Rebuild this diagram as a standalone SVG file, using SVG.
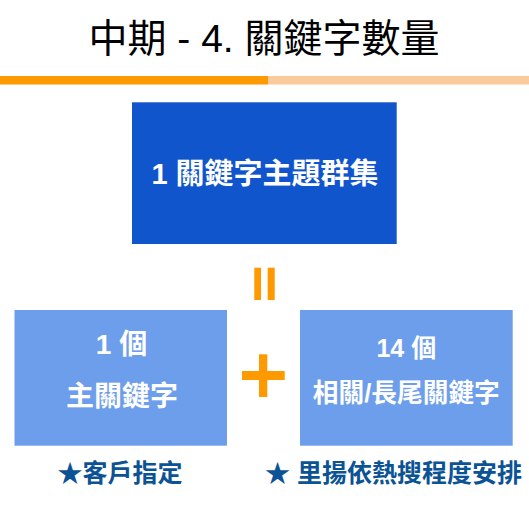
<svg xmlns="http://www.w3.org/2000/svg" width="529" height="529" viewBox="0 0 529 529">
<style>
text{font-family:"Liberation Sans","Noto Sans CJK TC",sans-serif;text-anchor:middle}
.title{font-size:39px;fill:#000}
.w{fill:#fff;font-weight:bold}
.note{fill:#0B5394;font-weight:bold;font-size:25px}
.op{fill:#FF9900}
</style>
<rect width="529" height="529" fill="#fff"/>
<g id="header">
<text class="title" x="264" y="52">中期 - 4. 關鍵字數量</text>
<rect x="0" y="76" width="268" height="8.5" fill="#FF9900"/>
<rect x="268" y="76" width="261" height="8.5" fill="#F9CB9C"/>
</g>
<g id="node-cluster">
<rect x="132" y="102.3" width="264.7" height="141.7" fill="#1155CC"/>
<text class="w" x="265" y="184" font-size="29">1 關鍵字主題群集</text>
</g>
<g id="node-main">
<rect x="14.5" y="310" width="212.5" height="135.7" fill="#6D9EEB"/>
<text class="w" x="121.5" y="353.5" font-size="28">1 個</text>
<text class="w" x="122" y="406" font-size="28">主關鍵字</text>
</g>
<g id="node-related">
<rect x="300" y="310" width="212.7" height="135.7" fill="#6D9EEB"/>
<text class="w" x="406.3" y="356.7" font-size="25">14 個</text>
<text class="w" x="406.3" y="401.5" font-size="25.7">相關/長尾關鍵字</text>
</g>
<g id="operators">
<rect class="op" x="254.3" y="267.7" width="6.7" height="32.3"/>
<rect class="op" x="267.7" y="267.7" width="7" height="32.3"/>
<rect class="op" x="259" y="354.3" width="8.3" height="42.7"/>
<rect class="op" x="242" y="371" width="42.7" height="9"/>
</g>
<g id="notes">
<text class="note" x="120" y="481.5">★客戶指定</text>
<text class="note" x="265" y="481.5" style="text-anchor:start">★ 里揚依熱搜程度安排</text>
</g>
</svg>
